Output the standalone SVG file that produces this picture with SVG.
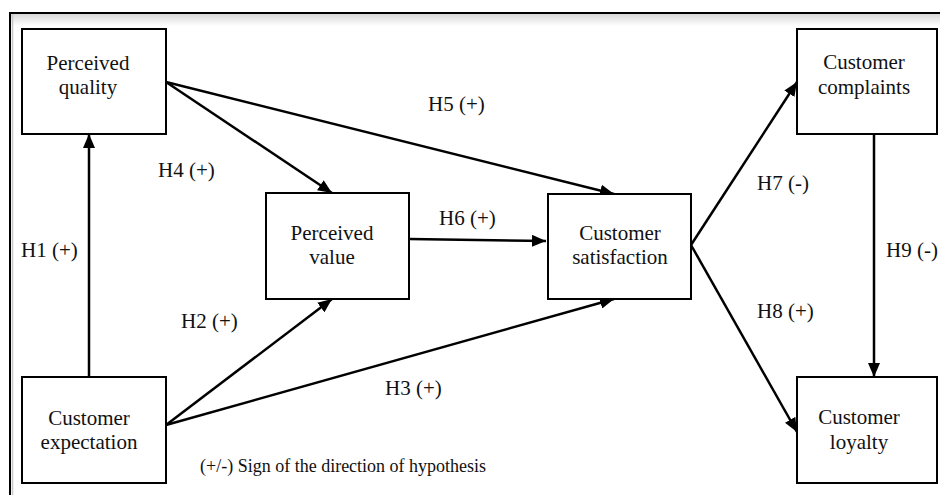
<svg xmlns="http://www.w3.org/2000/svg" width="940" height="495" viewBox="0 0 940 495">
<defs>
<linearGradient id="shT" x1="0" y1="0" x2="0" y2="1"><stop offset="0" stop-color="#d8d8d8"/><stop offset="1" stop-color="#ffffff"/></linearGradient>
<marker id="ah" markerWidth="14" markerHeight="12" refX="14" refY="6" orient="auto" markerUnits="userSpaceOnUse"><path d="M0,0 L14,6 L0,12 Z" fill="#000"/></marker>
<style>
.box{fill:#fff;stroke:#000;stroke-width:2}
.t{font-family:"Liberation Serif","Times New Roman",serif;font-size:21px;fill:#111;text-anchor:middle}
.l{font-family:"Liberation Serif","Times New Roman",serif;font-size:21px;fill:#111}
.c{stroke:#000;stroke-width:2.5;fill:none;marker-end:url(#ah)}
</style>
</defs>
<rect x="0" y="0" width="940" height="495" fill="#fff"/>
<rect x="11" y="14" width="935" height="12" fill="url(#shT)"/>
<line x1="12.5" y1="14" x2="12.5" y2="495" stroke="#c8c8c8" stroke-width="1.5"/>
<path d="M10,495 V13 H940" fill="none" stroke="#000" stroke-width="2"/>
<g id="connectors">
<line class="c" x1="89" y1="377" x2="89" y2="134"/>
<line class="c" x1="166" y1="82" x2="332" y2="193"/>
<line class="c" x1="166" y1="82" x2="614" y2="194"/>
<line class="c" x1="409" y1="239" x2="546" y2="241"/>
<line class="c" x1="166" y1="425" x2="332" y2="299"/>
<line class="c" x1="166" y1="425" x2="614" y2="299"/>
<line class="c" x1="691" y1="245" x2="797" y2="82"/>
<line class="c" x1="691" y1="245" x2="797" y2="432"/>
<line class="c" x1="874" y1="134" x2="874" y2="377"/>
</g>
<g id="perceived-quality"><rect class="box" x="22" y="29" width="144" height="105"/><text class="t" x="88" y="70">Perceived</text><text class="t" x="88" y="94">quality</text></g>
<g id="customer-complaints"><rect class="box" x="797" y="29" width="140" height="105"/><text class="t" x="864" y="69">Customer</text><text class="t" x="864" y="94">complaints</text></g>
<g id="perceived-value"><rect class="box" x="266" y="193" width="143" height="106"/><text class="t" x="332" y="240">Perceived</text><text class="t" x="332" y="264">value</text></g>
<g id="customer-satisfaction"><rect class="box" x="548" y="194" width="143" height="105"/><text class="t" x="620" y="240">Customer</text><text class="t" x="620" y="264">satisfaction</text></g>
<g id="customer-expectation"><rect class="box" x="22" y="377" width="144" height="106"/><text class="t" x="89" y="425">Customer</text><text class="t" x="89" y="449">expectation</text></g>
<g id="customer-loyalty"><rect class="box" x="797" y="377" width="140" height="106"/><text class="t" x="859" y="424">Customer</text><text class="t" x="859" y="449">loyalty</text></g>
<g id="labels">
<text class="l" x="21" y="257">H1 (+)</text>
<text class="l" x="158" y="177">H4 (+)</text>
<text class="l" x="428" y="111">H5 (+)</text>
<text class="l" x="439" y="225">H6 (+)</text>
<text class="l" x="181" y="328">H2 (+)</text>
<text class="l" x="385" y="395">H3 (+)</text>
<text class="l" x="757" y="190">H7 (-)</text>
<text class="l" x="757" y="318">H8 (+)</text>
<text class="l" x="886" y="257">H9 (-)</text>
<text class="l" x="200" y="472" style="font-size:18px">(+/-) Sign of the direction of hypothesis</text>
</g>
</svg>
